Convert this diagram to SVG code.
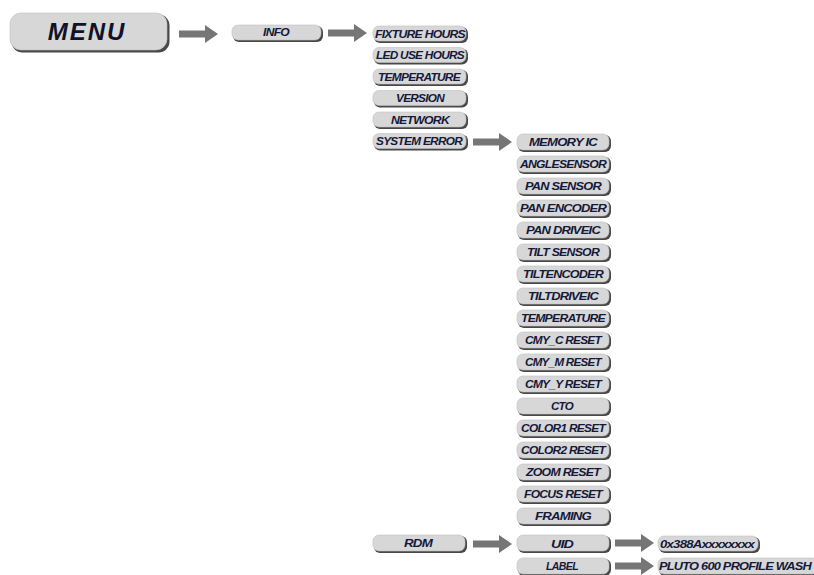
<svg xmlns="http://www.w3.org/2000/svg" width="814" height="575" viewBox="0 0 814 575">
<style>
.sh{fill:#484848}
.bx{fill:#d7d7d7;stroke:#c0c0c0;stroke-width:0.6}
.t{font-family:"Liberation Sans",Arial,sans-serif;font-weight:bold;font-style:italic;font-size:10px;fill:#15193a;text-anchor:middle;letter-spacing:-0.6px}
.big{font-size:24px;letter-spacing:2px;fill:#10122a}
.ar{fill:#767676}
</style>
<defs>
<polygon id="arr" points="0,-3.5 26,-3.5 26,-9 39,0 26,9 26,3.5 0,3.5"/>
</defs>
<rect width="814" height="575" fill="#ffffff"/>
<g id="connectors">
<use href="#arr" class="ar" x="179" y="34"/>
<use href="#arr" class="ar" x="328" y="33"/>
<use href="#arr" class="ar" x="473" y="142"/>
<use href="#arr" class="ar" x="473" y="544"/>
<use href="#arr" class="ar" x="615" y="543"/>
<use href="#arr" class="ar" x="615" y="566"/>
</g>
<g id="menu"><rect class="sh" x="11.5" y="14.5" width="158" height="38" rx="11"/><rect class="bx" x="10" y="13" width="157" height="37" rx="11"/><text class="t big" x="87" y="40">MENU</text></g>
<g id="info"><rect class="sh" x="233" y="26" width="90" height="16" rx="6"/><rect class="bx" x="232" y="25" width="89" height="15" rx="6"/><text class="t" x="276" y="36" textLength="26" lengthAdjust="spacingAndGlyphs">INFO</text></g>
<g id="fixture-hours"><rect class="sh" x="374" y="27" width="94" height="16" rx="6"/><rect class="bx" x="373" y="26" width="93" height="15" rx="6"/><text class="t" x="420" y="37.5" textLength="90" lengthAdjust="spacingAndGlyphs">FIXTURE HOURS</text></g>
<g id="led-use-hours"><rect class="sh" x="374" y="48.5" width="94" height="16" rx="6"/><rect class="bx" x="373" y="47.5" width="93" height="15" rx="6"/><text class="t" x="420" y="59" textLength="88" lengthAdjust="spacingAndGlyphs">LED USE HOURS</text></g>
<g id="temperature-1"><rect class="sh" x="374" y="70" width="94" height="16" rx="6"/><rect class="bx" x="373" y="69" width="93" height="15" rx="6"/><text class="t" x="419" y="80.5" textLength="82" lengthAdjust="spacingAndGlyphs">TEMPERATURE</text></g>
<g id="version"><rect class="sh" x="374" y="91.5" width="94" height="16" rx="6"/><rect class="bx" x="373" y="90.5" width="93" height="15" rx="6"/><text class="t" x="420" y="102" textLength="48" lengthAdjust="spacingAndGlyphs">VERSION</text></g>
<g id="network"><rect class="sh" x="374" y="113" width="94" height="16" rx="6"/><rect class="bx" x="373" y="112" width="93" height="15" rx="6"/><text class="t" x="420" y="123.5" textLength="58" lengthAdjust="spacingAndGlyphs">NETWORK</text></g>
<g id="system-error"><rect class="sh" x="374" y="134.5" width="94" height="16" rx="6"/><rect class="bx" x="373" y="133.5" width="93" height="15" rx="6"/><text class="t" x="419" y="145" textLength="86" lengthAdjust="spacingAndGlyphs">SYSTEM ERROR</text></g>
<g id="memory-ic"><rect class="sh" x="518" y="135" width="93" height="17" rx="6"/><rect class="bx" x="517" y="134" width="92" height="16" rx="6"/><text class="t" x="563" y="146" textLength="68" lengthAdjust="spacingAndGlyphs">MEMORY IC</text></g>
<g id="anglesensor"><rect class="sh" x="518" y="157" width="93" height="17" rx="6"/><rect class="bx" x="517" y="156" width="92" height="16" rx="6"/><text class="t" x="563" y="168" textLength="86" lengthAdjust="spacingAndGlyphs">ANGLESENSOR</text></g>
<g id="pan-sensor"><rect class="sh" x="518" y="179" width="93" height="17" rx="6"/><rect class="bx" x="517" y="178" width="92" height="16" rx="6"/><text class="t" x="563" y="190" textLength="76" lengthAdjust="spacingAndGlyphs">PAN SENSOR</text></g>
<g id="pan-encoder"><rect class="sh" x="518" y="201" width="93" height="17" rx="6"/><rect class="bx" x="517" y="200" width="92" height="16" rx="6"/><text class="t" x="563" y="212" textLength="86" lengthAdjust="spacingAndGlyphs">PAN ENCODER</text></g>
<g id="pan-driveic"><rect class="sh" x="518" y="223" width="93" height="17" rx="6"/><rect class="bx" x="517" y="222" width="92" height="16" rx="6"/><text class="t" x="563" y="234" textLength="74" lengthAdjust="spacingAndGlyphs">PAN DRIVEIC</text></g>
<g id="tilt-sensor"><rect class="sh" x="518" y="245" width="93" height="17" rx="6"/><rect class="bx" x="517" y="244" width="92" height="16" rx="6"/><text class="t" x="563" y="256" textLength="72" lengthAdjust="spacingAndGlyphs">TILT SENSOR</text></g>
<g id="tiltencoder"><rect class="sh" x="518" y="267" width="93" height="17" rx="6"/><rect class="bx" x="517" y="266" width="92" height="16" rx="6"/><text class="t" x="563" y="278" textLength="80" lengthAdjust="spacingAndGlyphs">TILTENCODER</text></g>
<g id="tiltdriveic"><rect class="sh" x="518" y="289" width="93" height="17" rx="6"/><rect class="bx" x="517" y="288" width="92" height="16" rx="6"/><text class="t" x="563" y="300" textLength="70" lengthAdjust="spacingAndGlyphs">TILTDRIVEIC</text></g>
<g id="temperature-2"><rect class="sh" x="518" y="311" width="93" height="17" rx="6"/><rect class="bx" x="517" y="310" width="92" height="16" rx="6"/><text class="t" x="563" y="322" textLength="84" lengthAdjust="spacingAndGlyphs">TEMPERATURE</text></g>
<g id="cmy-c-reset"><rect class="sh" x="518" y="333" width="93" height="17" rx="6"/><rect class="bx" x="517" y="332" width="92" height="16" rx="6"/><text class="t" x="563" y="344" textLength="76" lengthAdjust="spacingAndGlyphs">CMY_C RESET</text></g>
<g id="cmy-m-reset"><rect class="sh" x="518" y="355" width="93" height="17" rx="6"/><rect class="bx" x="517" y="354" width="92" height="16" rx="6"/><text class="t" x="563" y="366" textLength="76" lengthAdjust="spacingAndGlyphs">CMY_M RESET</text></g>
<g id="cmy-y-reset"><rect class="sh" x="518" y="377" width="93" height="17" rx="6"/><rect class="bx" x="517" y="376" width="92" height="16" rx="6"/><text class="t" x="563" y="388" textLength="76" lengthAdjust="spacingAndGlyphs">CMY_Y RESET</text></g>
<g id="cto"><rect class="sh" x="518" y="399" width="93" height="17" rx="6"/><rect class="bx" x="517" y="398" width="92" height="16" rx="6"/><text class="t" x="562" y="410" textLength="22" lengthAdjust="spacingAndGlyphs">CTO</text></g>
<g id="color1-reset"><rect class="sh" x="518" y="421" width="93" height="17" rx="6"/><rect class="bx" x="517" y="420" width="92" height="16" rx="6"/><text class="t" x="563" y="432" textLength="84" lengthAdjust="spacingAndGlyphs">COLOR1 RESET</text></g>
<g id="color2-reset"><rect class="sh" x="518" y="443" width="93" height="17" rx="6"/><rect class="bx" x="517" y="442" width="92" height="16" rx="6"/><text class="t" x="563" y="454" textLength="84" lengthAdjust="spacingAndGlyphs">COLOR2 RESET</text></g>
<g id="zoom-reset"><rect class="sh" x="518" y="465" width="93" height="17" rx="6"/><rect class="bx" x="517" y="464" width="92" height="16" rx="6"/><text class="t" x="563" y="476" textLength="74" lengthAdjust="spacingAndGlyphs">ZOOM RESET</text></g>
<g id="focus-reset"><rect class="sh" x="518" y="487" width="93" height="17" rx="6"/><rect class="bx" x="517" y="486" width="92" height="16" rx="6"/><text class="t" x="563" y="498" textLength="78" lengthAdjust="spacingAndGlyphs">FOCUS RESET</text></g>
<g id="framing"><rect class="sh" x="518" y="509" width="93" height="17" rx="6"/><rect class="bx" x="517" y="508" width="92" height="16" rx="6"/><text class="t" x="563" y="520" textLength="56" lengthAdjust="spacingAndGlyphs">FRAMING</text></g>
<g id="rdm"><rect class="sh" x="374" y="536" width="93" height="17" rx="6"/><rect class="bx" x="373" y="535" width="92" height="16" rx="6"/><text class="t" x="418" y="547" textLength="28" lengthAdjust="spacingAndGlyphs">RDM</text></g>
<g id="uid"><rect class="sh" x="518" y="536" width="93" height="17" rx="6"/><rect class="bx" x="517" y="535" width="92" height="16" rx="6"/><text class="t" x="562" y="548" textLength="22" lengthAdjust="spacingAndGlyphs">UID</text></g>
<g id="label"><rect class="sh" x="518" y="559" width="93" height="17" rx="6"/><rect class="bx" x="517" y="558" width="92" height="16" rx="6"/><text class="t" x="562" y="570" textLength="32" lengthAdjust="spacingAndGlyphs">LABEL</text></g>
<g id="uid-value"><rect class="sh" x="659" y="537" width="101" height="16" rx="6"/><rect class="bx" x="658" y="536" width="100" height="15" rx="6"/><text class="t" x="707" y="547.5" textLength="94" lengthAdjust="spacingAndGlyphs">0x388Axxxxxxxx</text></g>
<g id="label-value"><rect class="sh" x="659" y="559" width="160" height="17" rx="6"/><rect class="bx" x="658" y="558" width="160" height="16" rx="6"/><text class="t" x="735" y="570" textLength="152" lengthAdjust="spacingAndGlyphs">PLUTO 600 PROFILE WASH</text></g>
</svg>
